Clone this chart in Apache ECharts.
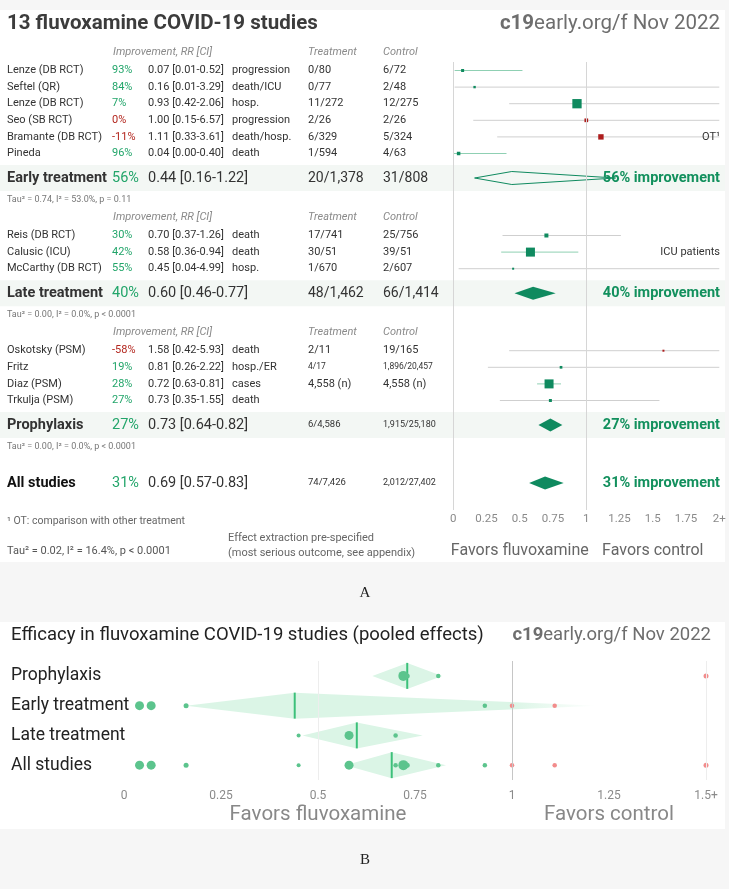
<!DOCTYPE html>
<html><head><meta charset="utf-8">
<script src="https://cdn.jsdelivr.net/npm/echarts@6/dist/echarts.min.js"></script>
<style>html,body{margin:0;padding:0;background:#fff}#c{width:729px;height:889px}</style>
</head><body><div id="c"></div>
<script>
// ---------------- data ----------------
const studyNames = ['Lenze (DB RCT)','Seftel (QR)','Lenze (DB RCT)','Seo (SB RCT)','Bramante (DB RCT)','Pineda','Reis (DB RCT)','Calusic (ICU)','McCarthy (DB RCT)','Oskotsky (PSM)','Fritz','Diaz (PSM)','Trkulja (PSM)'];
const studyGroup = [0,0,0,0,0,0,1,1,1,2,2,2,2];
const studyRR = [0.07,0.16,0.93,1.00,1.11,0.04,0.70,0.58,0.45,1.58,0.81,0.72,0.73];
const studyLo = [0.01,0.01,0.42,0.15,0.33,0.00,0.37,0.36,0.04,0.42,0.26,0.63,0.35];
const studyHi = [0.52,3.29,2.06,6.57,3.61,0.40,1.26,0.94,4.99,5.93,2.22,0.81,1.55];
const studyImprovement = ['93%','84%','7%','0%','-11%','96%','30%','42%','55%','-58%','19%','28%','27%'];
const studyOutcome = ['progression','death/ICU','hosp.','progression','death/hosp.','death','death','death','hosp.','death','hosp./ER','cases','death'];
const studyTreatment = ['0/80','0/77','11/272','2/26','6/329','1/594','17/741','30/51','1/670','2/11','4/17','4,558 (n)',''];
const studyControl = ['6/72','2/48','12/275','2/26','5/324','4/63','25/756','39/51','2/607','19/165','1,896/20,457','4,558 (n)',''];
const studyNote = ['','','','','OT¹','','','ICU patients','','','','',''];
const studyWeightA = [3,2.4,9.3,3.7,5.4,3.5,4,9,2,2,2.7,9,3];
const studyWeightB = [9,5,4.5,4.5,4.5,9,4.5,9,4,5,4.5,10,5];

const groupNames = ['Early treatment','Late treatment','Prophylaxis','All studies'];
const groupRR = [0.44,0.60,0.73,0.69];
const groupLo = [0.16,0.46,0.64,0.57];
const groupHi = [1.22,0.77,0.82,0.83];
const groupImprovement = ['56%','40%','27%','31%'];
const groupTreatment = ['20/1,378','48/1,462','6/4,586','74/7,426'];
const groupControl = ['31/808','66/1,414','1,915/25,180','2,012/27,402'];
const groupHeterogeneity = ['Tau² = 0.74, I² = 53.0%, p = 0.11','Tau² = 0.00, I² = 0.0%, p < 0.0001','Tau² = 0.00, I² = 0.0%, p < 0.0001','Tau² = 0.02, I² = 16.4%, p < 0.0001'];

const pooledRowsB = [2,0,1,3]; // group index per row of panel B
const axisMaxA = 2, axisMaxB = 1.5, tickStep = 0.25;

// ---------------- style ----------------
const GREEN = '#0f8a5f', RED = '#ad1d1d', PCT_GREEN = '#22a56a', PCT_RED = '#b3261e';
const DOT_GREEN = '#5cc48d', DOT_RED = '#f28c8c';
const FONT = 'Roboto';

// ---------------- layout of panel A rows ----------------
const LAYOUT = {start:52, header:18.5, study:16.6, summary:24.5, tau:22, nextHeader:17, all:36};
const rows = []; let cy = LAYOUT.start;
for (let g = 0; g < 3; g++) {
  if (g > 0) cy += LAYOUT.nextHeader;
  rows.push({kind:'header', y:cy});
  let first = true;
  studyGroup.forEach((sg, i) => { if (sg !== g) return; cy += first ? LAYOUT.header : LAYOUT.study; first = false; rows.push({kind:'study', i, y:cy}); });
  cy += LAYOUT.summary; rows.push({kind:'summary', g, y:cy});
  cy += LAYOUT.tau; rows.push({kind:'tau', g, y:cy});
}
cy += LAYOUT.all; rows.push({kind:'summary', g:3, y:cy});

const studyDataA = rows.filter(r => r.kind === 'study').map(r => [studyRR[r.i], r.y, studyLo[r.i], studyHi[r.i], studyWeightA[r.i]]);
const summaryDataA = rows.filter(r => r.kind === 'summary').map(r => [groupRR[r.g], r.y, groupLo[r.g], groupHi[r.g]]);

function renderStudyA(params, api) {
  const rr = api.value(0), y = api.value(1), lo = api.value(2), hi = api.value(3), s = api.value(4);
  const p0 = api.coord([Math.max(lo, 0), y]), p1 = api.coord([Math.min(hi, axisMaxA), y]), pc = api.coord([rr, y]);
  return {type:'group', children:[
    {type:'line', shape:{x1:p0[0], y1:p0[1], x2:p1[0], y2:p1[1]}, style:{stroke: hi < 1 ? '#8fd0b3' : '#cfcfcf', lineWidth:1}},
    {type:'rect', shape:{x:pc[0]-s/2, y:pc[1]-s/2, width:s, height:s}, style:{fill: rr >= 1 ? RED : GREEN}}
  ]};
}
function renderDiamondA(params, api) {
  const est = api.value(0), y = api.value(1), lo = api.value(2), hi = api.value(3);
  const a = api.coord([lo, y]), c = api.coord([est, y]), b = api.coord([Math.min(hi, axisMaxA), y]);
  const h = 6.5;
  const pts = [[a[0], a[1]], [c[0], c[1]-h], [b[0], b[1]], [c[0], c[1]+h]];
  return {type:'polygon', shape:{points:pts}, style: hi < 1 ? {fill:GREEN} : {fill:'none', stroke:GREEN, lineWidth:1}};
}

// ---------------- panel B data ----------------
const dotsB = [];
studyRR.forEach((rr, i) => {
  const rowG = pooledRowsB.indexOf(studyGroup[i]);
  const rowAll = pooledRowsB.indexOf(3);
  [rowG, rowAll].forEach(r => dotsB.push({value:[Math.min(rr, axisMaxB), r, studyWeightB[i]], itemStyle:{color: rr >= 1 ? DOT_RED : DOT_GREEN}}));
});
const diamondsB = pooledRowsB.map((g, r) => [groupRR[g], r, groupLo[g], groupHi[g]]);
function renderDiamondB(params, api) {
  const est = api.value(0), r = api.value(1), lo = api.value(2), hi = api.value(3);
  const a = api.coord([lo, r]), c = api.coord([est, r]), b = api.coord([Math.min(hi, axisMaxB), r]);
  const h = 13;
  let fill = '#dbf5e6';
  if (hi > 1) {
    const s = (api.coord([1, r])[0] - a[0]) / (b[0] - a[0]);
    fill = new echarts.graphic.LinearGradient(0, 0, 1, 0, [{offset:0, color:'#dbf5e6'}, {offset:s, color:'#dbf5e6'}, {offset:1, color:'rgba(219,245,230,0)'}]);
  }
  return {type:'group', children:[
    {type:'polygon', shape:{points:[[a[0], a[1]], [c[0], c[1]-h], [b[0], b[1]], [c[0], c[1]+h]]}, style:{fill}},
    {type:'line', shape:{x1:c[0], y1:c[1]-h, x2:c[0], y2:c[1]+h}, style:{stroke:'#3cc07a', lineWidth:2}}
  ]};
}

const chart = echarts.init(document.getElementById('c'), null, {renderer:'canvas'});
chart.setOption({
  animation:false,
  backgroundColor:'#ffffff',
  grid:[
    {left:453.3, width:266, top:62, height:448, containLabel:false, outerBoundsMode:'none'},
    {left:124, width:582, top:661, height:119, containLabel:false, outerBoundsMode:'none'}
  ],
  xAxis:[
    {type:'value', gridIndex:0, min:0, max:axisMaxA, interval:tickStep, axisLine:{show:false}, axisTick:{show:false}, splitLine:{show:false},
     axisLabel:{color:'#8a8a8a', fontSize:11.5, fontFamily:FONT, margin:3, formatter:v => v >= axisMaxA ? axisMaxA + '+' : String(v)}},
    {type:'value', gridIndex:1, min:0, max:axisMaxB, interval:tickStep, axisLine:{show:false}, axisTick:{show:false}, splitLine:{show:false},
     axisLabel:{color:'#8a8a8a', fontSize:12, fontFamily:FONT, margin:10, formatter:v => v >= axisMaxB ? axisMaxB + '+' : String(v)}}
  ],
  yAxis:[
    {type:'value', gridIndex:0, min:62, max:510, inverse:true, show:false},
    {type:'category', gridIndex:1, inverse:true, data:pooledRowsB.map(g => groupNames[g]),
     axisLine:{show:false}, axisTick:{show:false}, splitLine:{show:false},
     axisLabel:{align:'left', margin:113, color:'#222', fontSize:17.5, fontFamily:FONT}}
  ],
  series:[
    {type:'custom', xAxisIndex:0, yAxisIndex:0, z:2, data:studyDataA, renderItem:renderStudyA, encode:{x:0, y:1},
     markLine:{silent:true, symbol:'none', label:{show:false}, lineStyle:{color:'#d6d6d6', type:'solid', width:1}, data:[{xAxis:0}, {xAxis:1}]}},
    {type:'custom', xAxisIndex:0, yAxisIndex:0, z:3, data:summaryDataA, renderItem:renderDiamondA, encode:{x:0, y:1}},
    {type:'custom', xAxisIndex:1, yAxisIndex:1, z:2, data:diamondsB, renderItem:renderDiamondB, encode:{x:0, y:1},
     markLine:{silent:true, symbol:'none', label:{show:false}, lineStyle:{type:'solid', width:1},
       data:[{xAxis:0.5, lineStyle:{color:'#ededed'}}, {xAxis:1, lineStyle:{color:'#c6c6c6'}}, {xAxis:1.5, lineStyle:{color:'#ededed'}}]}},
    {type:'scatter', xAxisIndex:1, yAxisIndex:1, z:4, clip:false, data:dotsB, symbolSize:v => v[2], itemStyle:{opacity:1}}
  ]
});

// ---------------- texts ----------------
function T(text, x, y, o) {
  o = o || {};
  return {type:'text', x, y, z:10, silent:true, style:{text, fill:o.color || '#333', fontSize:o.size || 11, fontFamily:o.family || FONT,
    fontWeight:o.weight || 'normal', fontStyle:o.style || 'normal', align:o.align || 'left', verticalAlign:'middle'}};
}
function R(x, y, w, h, fill) { return {type:'rect', z:0, silent:true, shape:{x, y, width:w, height:h}, style:{fill}}; }
const pxA = v => chart.convertToPixel({gridIndex:0}, [v, 62])[0];
const pxB = v => chart.convertToPixel({gridIndex:1}, [v, 0])[0];
const COL = {name:7, pct:112, rr:148, outcome:232, treat:308, ctrl:383, right:720};
const fmt = v => v.toFixed(2);
const els = [];
const BG = '#f6f6f6';
els.push(R(0, 0, 729, 10, BG), R(0, 562, 729, 60, BG), R(0, 829, 729, 60, BG), R(725, 0, 4, 889, BG));

els.push(T('13 fluvoxamine COVID-19 studies', 7, 24, {size:20.5, weight:'bold', color:'#3c3c3c'}));
const brand = (x, y, size) => ({type:'text', x, y, z:10, silent:true, style:{text:'{b|c19}{n|early.org/f Nov 2022}', align:'right', verticalAlign:'middle',
  rich:{b:{fontWeight:'bold', fontSize:size, fontFamily:FONT, fill:'#6e6e6e'}, n:{fontSize:size, fontFamily:FONT, fill:'#6e6e6e'}}}});
els.push(brand(720, 24, 20.5));

rows.forEach(r => {
  if (r.kind === 'header') {
    const o = {style:'italic', color:'#8a8a8a'};
    els.push(T('Improvement, RR [CI]', 113, r.y, o), T('Treatment', COL.treat, r.y, o), T('Control', COL.ctrl, r.y, o));
  } else if (r.kind === 'study') {
    const i = r.i;
    const small = Math.max(studyTreatment[i].length, studyControl[i].length) > 10;
    els.push(T(studyNames[i], COL.name, r.y));
    els.push(T(studyImprovement[i], COL.pct, r.y, {color: studyRR[i] < 1 ? PCT_GREEN : PCT_RED}));
    els.push(T(fmt(studyRR[i]) + ' [' + fmt(studyLo[i]) + '-' + fmt(studyHi[i]) + ']', COL.rr, r.y));
    els.push(T(studyOutcome[i], COL.outcome, r.y));
    els.push(T(studyTreatment[i], COL.treat, r.y, {size: small ? 8.5 : 11}));
    els.push(T(studyControl[i], COL.ctrl, r.y, {size: small ? 8.5 : 11}));
    if (studyNote[i]) els.push(T(studyNote[i], COL.right, r.y, {align:'right'}));
  } else if (r.kind === 'summary') {
    const g = r.g;
    if (g < 3) els.push(R(0, r.y - 13, 725, 26, '#f3f7f4'));
    const small = Math.max(groupTreatment[g].length, groupControl[g].length) > 10;
    els.push(T(groupNames[g], COL.name, r.y, {size:14.5, weight:'bold', color: g === 3 ? '#111' : '#333'}));
    els.push(T(groupImprovement[g], COL.pct, r.y, {size:14.5, color:PCT_GREEN}));
    els.push(T(fmt(groupRR[g]) + ' [' + fmt(groupLo[g]) + '-' + fmt(groupHi[g]) + ']', COL.rr, r.y, {size:14.5}));
    els.push(T(groupTreatment[g], COL.treat, r.y, {size: small ? 9.5 : 14}));
    els.push(T(groupControl[g], COL.ctrl, r.y, {size: small ? 9 : 14}));
    els.push(T(groupImprovement[g] + ' improvement', COL.right, r.y, {size:14.5, weight:'bold', color:'#12905d', align:'right'}));
  } else if (r.kind === 'tau') {
    els.push(T(groupHeterogeneity[r.g], COL.name, r.y, {size:9, color:'#777'}));
  }
});
els.push(T('¹ OT: comparison with other treatment', 7, 521, {size:10.5, color:'#666'}));
els.push(T(groupHeterogeneity[3], 7, 551, {size:11, color:'#555'}));
els.push(T('Effect extraction pre-specified', 228, 538, {size:11, color:'#666'}));
els.push(T('(most serious outcome, see appendix)', 228, 553, {size:11, color:'#666'}));
els.push(T('Favors fluvoxamine', pxA(0.5), 551, {size:16, color:'#666', align:'center'}));
els.push(T('Favors control', pxA(1.5), 551, {size:16, color:'#666', align:'center'}));
els.push(T('A', 365, 593, {size:15, family:'Liberation Serif', color:'#222', align:'center'}));

els.push(T('Efficacy in fluvoxamine COVID-19 studies (pooled effects)', 11, 635, {size:18.5, color:'#222'}));
els.push(brand(711, 635, 18.5));
els.push(T('Favors fluvoxamine', pxB(0.5), 815, {size:20.5, color:'#888', align:'center'}));
els.push(T('Favors control', pxB(1.25), 815, {size:20.5, color:'#888', align:'center'}));
els.push(T('B', 365, 860, {size:15, family:'Liberation Serif', color:'#222', align:'center'}));

chart.setOption({graphic:{elements:els}});
</script></body></html>
